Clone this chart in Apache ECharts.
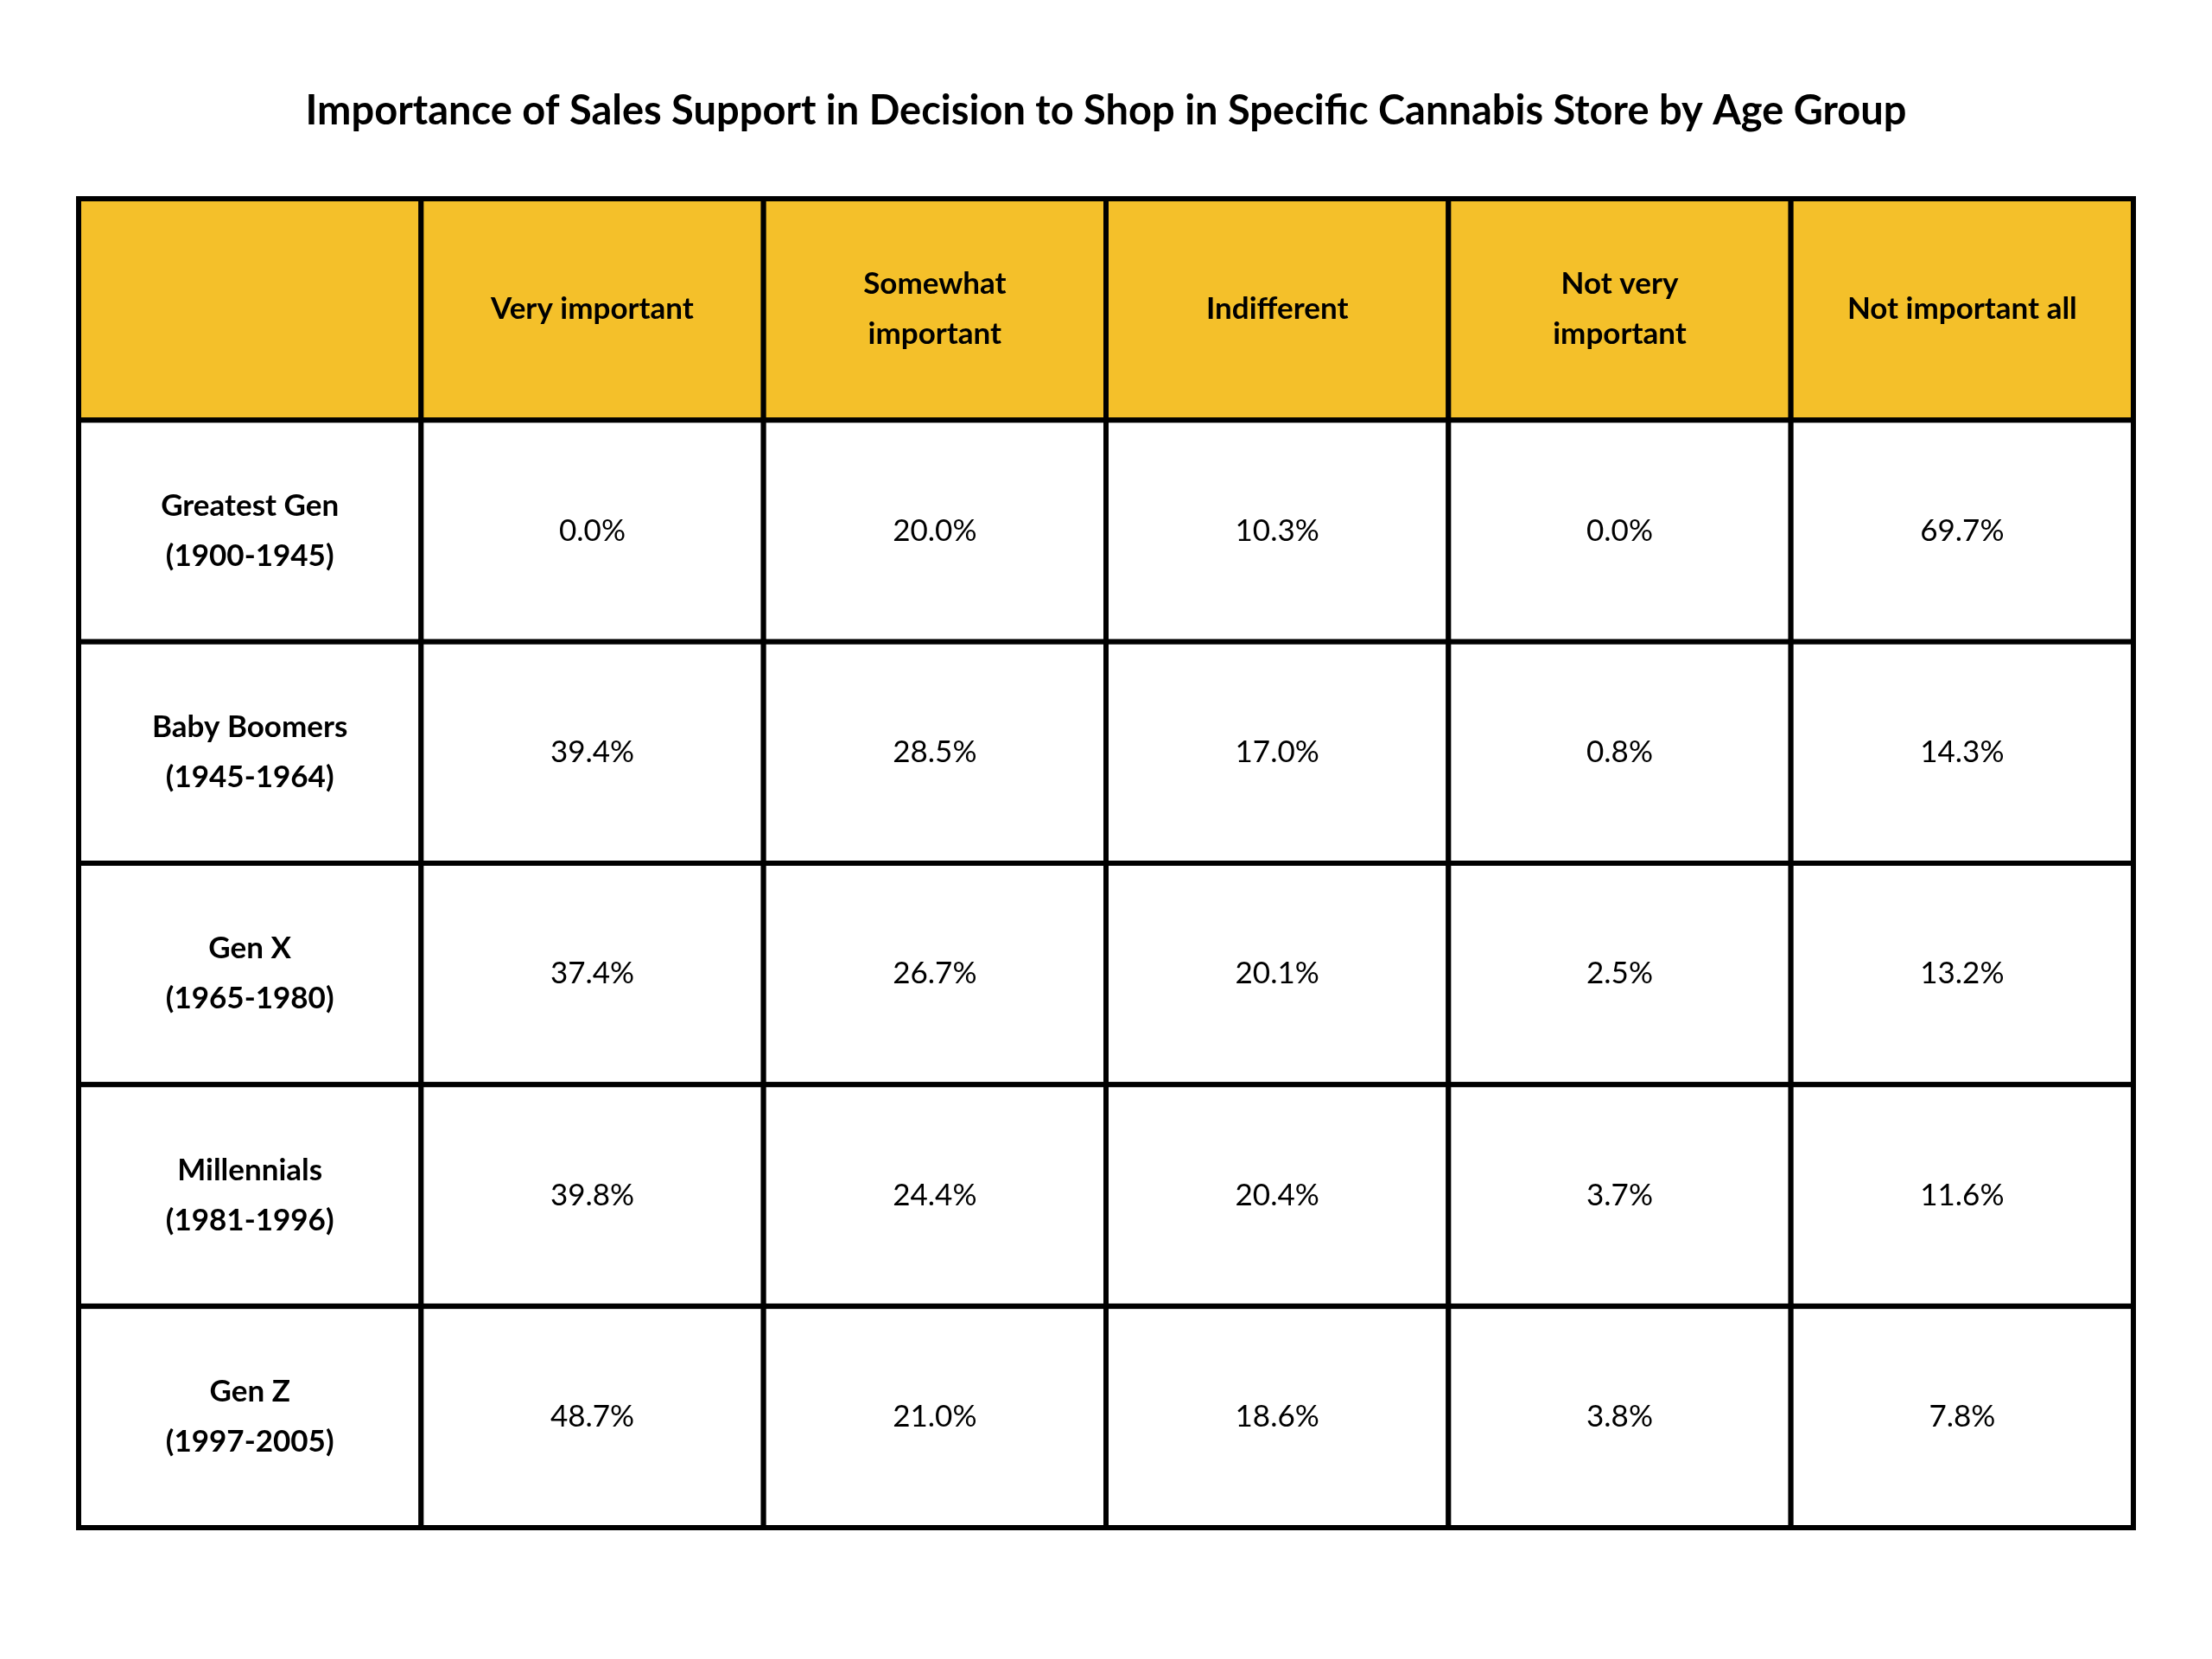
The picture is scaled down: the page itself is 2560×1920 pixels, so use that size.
<!DOCTYPE html>
<html>
<head>
<meta charset="utf-8">
<script src="https://cdn.jsdelivr.net/npm/echarts@6/dist/echarts.min.js"></script>
</head>
<body style="margin:0;background:#fff">
<div id="main" style="width:2560px;height:1920px"></div>
<script>
var columns = ['', 'Very important', 'Somewhat\nimportant', 'Indifferent', 'Not very\nimportant', 'Not important all'];
var groups = ['Greatest Gen\n(1900-1945)', 'Baby Boomers\n(1945-1964)', 'Gen X\n(1965-1980)', 'Millennials\n(1981-1996)', 'Gen Z\n(1997-2005)'];
var veryImportant = [0.0, 39.4, 37.4, 39.8, 48.7];
var somewhatImportant = [20.0, 28.5, 26.7, 24.4, 21.0];
var indifferent = [10.3, 17.0, 20.1, 20.4, 18.6];
var notVeryImportant = [0.0, 0.8, 2.5, 3.7, 3.8];
var notImportantAll = [69.7, 14.3, 13.2, 11.6, 7.8];

var valueCols = [veryImportant, somewhatImportant, indifferent, notVeryImportant, notImportantAll];
var xs = [0, 1, 2, 3, 4, 5];
var ys = [0, 1, 2, 3, 4, 5];
var cells = [];
// header row
columns.forEach(function (c, i) { cells.push([i, 0, c, 'head']); });
groups.forEach(function (g, r) {
    cells.push([0, r + 1, g, 'row']);
    valueCols.forEach(function (col, i) {
        cells.push([i + 1, r + 1, col[r].toFixed(1) + '%', 'val']);
    });
});

var chart = echarts.init(document.getElementById('main'));
chart.setOption({
    title: {
        text: 'Importance of Sales Support in Decision to Shop in Specific Cannabis Store by Age Group',
        left: 'center', top: 100,
        textStyle: { fontFamily: 'Lato', fontWeight: 'bold', fontSize: 47, color: '#000' }
    },
    grid: { left: 91, right: 91, top: 230, height: 1538 },
    xAxis: { type: 'category', data: xs, show: false },
    yAxis: { type: 'category', data: ys, inverse: true, show: false },
    series: [{
        type: 'custom',
        data: cells,
        encode: { x: 0, y: 1 },
        renderItem: function (params, api) {
            var d = cells[params.dataIndex];
            var p = api.coord([api.value(0), api.value(1)]);
            var s = api.size([1, 1]);
            var bold = d[3] !== 'val';
            return {
                type: 'group',
                children: [{
                    type: 'rect',
                    shape: { x: p[0] - s[0] / 2, y: p[1] - s[1] / 2, width: s[0], height: s[1] },
                    style: { fill: d[3] === 'head' ? '#F4C02A' : '#fff', stroke: '#000', lineWidth: 6 }
                }, {
                    type: 'text',
                    style: {
                        x: p[0], y: p[1], text: d[2], align: 'center', verticalAlign: 'middle',
                        fontFamily: 'Lato', fontSize: 35, fontWeight: bold ? 'bold' : 'normal',
                        lineHeight: 58, fill: '#000'
                    }
                }]
            };
        }
    }]
});
</script>
</body>
</html>
